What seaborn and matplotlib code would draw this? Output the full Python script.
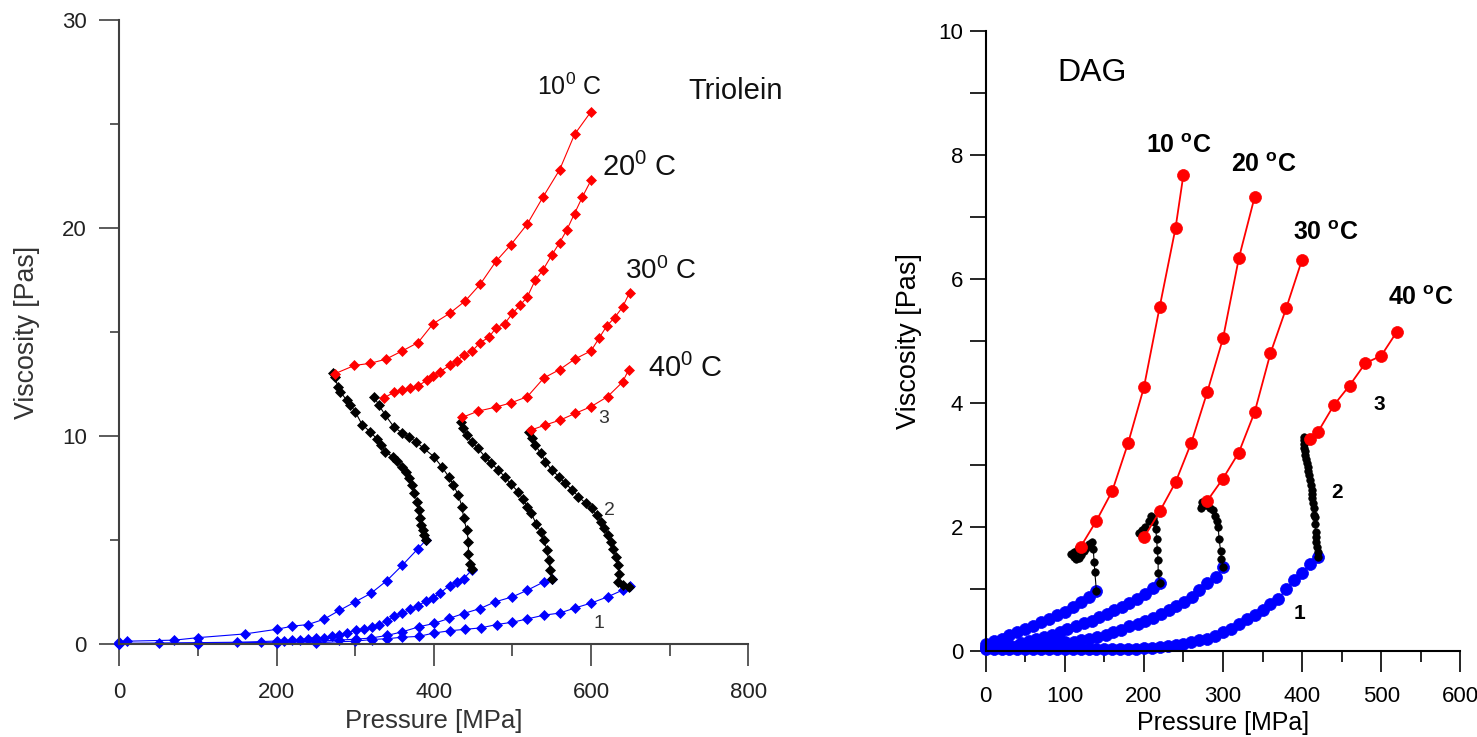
import matplotlib
matplotlib.use("Agg")
import matplotlib.pyplot as plt
import seaborn as sns

# ---------------- Triolein (left panel) ----------------
T10_blue_P = [0, 10, 70, 100, 160, 200, 220, 240, 260, 280, 300, 320, 340, 360, 380, 390]
T10_blue_V = [0.1, 0.15, 0.2, 0.32, 0.5, 0.72, 0.87, 0.95, 1.2, 1.63, 2.04, 2.45, 3.05, 3.8, 4.6, 5.0]
T10_black_P = [390, 387, 386, 384, 382, 381, 379, 375, 372, 368, 365, 360, 353, 348, 338, 333, 328,
               319, 309, 300, 294, 289, 281, 278, 274, 272]
T10_black_V = [5.0, 5.25, 5.49, 5.73, 6.05, 6.45, 6.85, 7.25, 7.65, 7.98, 8.29, 8.53, 8.82, 9.01, 9.26,
               9.58, 9.85, 10.22, 10.54, 11.18, 11.5, 11.74, 12.14, 12.38, 12.86, 13.05]
T10_red_P = [274, 299, 319, 339, 360, 380, 399, 420, 440, 459, 479, 498, 519, 539, 560, 579, 600]
T10_red_V = [13.0, 13.4, 13.5, 13.7, 14.1, 14.5, 15.4, 15.9, 16.5, 17.3, 18.4, 19.2, 20.2, 21.5, 22.8, 24.5, 25.6]

T20_blue_P = [0, 50, 100, 150, 180, 200, 210, 220, 230, 240, 250, 260, 271, 280, 290, 301, 311, 321, 330,
              340, 350, 360, 370, 380, 390, 399, 408, 420, 429, 438, 449]
T20_blue_V = [0.05, 0.06, 0.08, 0.1, 0.13, 0.16, 0.16, 0.2, 0.23, 0.27, 0.32, 0.32, 0.38, 0.45, 0.56, 0.68,
              0.72, 0.83, 0.95, 1.1, 1.35, 1.51, 1.69, 1.85, 2.08, 2.23, 2.46, 2.82, 2.98, 3.16, 3.59]
T20_black_P = [449, 446, 444, 444, 442, 438, 436, 431, 425, 419, 410, 400, 387, 377, 368, 360, 349, 338, 330, 324]
T20_black_V = [3.64, 3.88, 4.36, 4.93, 5.49, 6.05, 6.61, 7.17, 7.66, 8.05, 8.54, 9.02, 9.42, 9.74, 9.98,
               10.14, 10.46, 11.03, 11.5, 11.9]
T20_red_P = [337, 349, 360, 370, 380, 391, 399, 408, 420, 429, 438, 449, 459, 470, 479, 490, 500, 510, 519,
             529, 539, 550, 560, 569, 579, 589, 600]
T20_red_V = [11.85, 12.1, 12.2, 12.3, 12.4, 12.7, 12.9, 13.1, 13.4, 13.6, 13.9, 14.1, 14.5, 14.75, 15.2, 15.4,
             15.9, 16.3, 16.7, 17.5, 18.0, 18.7, 19.3, 19.9, 20.7, 21.5, 22.3]

T30_blue_P = [0, 100, 200, 250, 280, 301, 320, 341, 360, 381, 400, 419, 438, 459, 478, 500, 519, 540, 550]
T30_blue_V = [0.03, 0.05, 0.1, 0.15, 0.2, 0.25, 0.3, 0.43, 0.6, 0.84, 1.0, 1.24, 1.48, 1.72, 2.04, 2.28, 2.6, 3.0, 3.16]
T30_black_P = [550, 548, 546, 544, 540, 536, 530, 524, 519, 513, 507, 498, 490, 482, 473, 465, 456, 448, 442, 437, 435]
T30_black_V = [3.16, 3.57, 4.05, 4.53, 5.0, 5.4, 5.8, 6.29, 6.6, 7.0, 7.34, 7.7, 8.06, 8.38, 8.7, 9.02, 9.42,
               9.74, 10.05, 10.38, 10.7]
T30_red_P = [436, 456, 479, 498, 519, 540, 560, 579, 600, 610, 620, 630, 640, 649]
T30_red_V = [10.9, 11.2, 11.4, 11.6, 11.9, 12.8, 13.2, 13.7, 14.1, 14.7, 15.3, 15.7, 16.2, 16.9]

T40_blue_P = [0, 100, 200, 250, 300, 321, 341, 360, 381, 400, 420, 440, 460, 480, 500, 519, 540, 560, 580,
              600, 621, 640, 650]
T40_blue_V = [0.02, 0.03, 0.05, 0.08, 0.15, 0.23, 0.27, 0.34, 0.38, 0.54, 0.65, 0.72, 0.79, 0.95, 1.06, 1.22,
              1.4, 1.5, 1.75, 1.98, 2.28, 2.6, 2.78]
T40_black_P = [648, 640, 634, 636, 634, 632, 628, 626, 622, 617, 613, 607, 601, 593, 584, 576, 567, 559, 550,
               542, 536, 529, 525, 521]
T40_black_V = [2.76, 2.84, 3.0, 3.4, 3.8, 4.2, 4.6, 4.93, 5.25, 5.57, 5.89, 6.21, 6.54, 6.78, 7.1, 7.42, 7.74,
               8.06, 8.38, 8.78, 9.18, 9.58, 9.9, 10.22]
T40_red_P = [524, 542, 561, 580, 600, 621, 640, 648]
T40_red_V = [10.3, 10.54, 10.78, 11.1, 11.42, 11.9, 12.6, 13.2]

# ---------------- DAG (right panel) ----------------
D10_blue_P = [0, 10, 20, 30, 40, 50, 60, 70, 80, 90, 100, 110, 120, 130, 140]
D10_blue_V = [0.12, 0.16, 0.2, 0.25, 0.31, 0.36, 0.41, 0.47, 0.52, 0.58, 0.63, 0.71, 0.79, 0.87, 0.96]
D10_black_P = [140, 138, 137, 136, 134, 131, 127, 124, 121, 118, 114, 111, 108, 112, 117]
D10_black_V = [0.96, 1.27, 1.44, 1.65, 1.76, 1.72, 1.66, 1.62, 1.55, 1.5, 1.49, 1.52, 1.56, 1.6, 1.64]
D10_red_P = [120, 140, 160, 180, 200, 220, 240, 250]
D10_red_V = [1.68, 2.1, 2.58, 3.35, 4.25, 5.55, 6.82, 7.68]

D20_blue_P = [0, 10, 20, 30, 44, 55, 64, 74, 84, 94, 103, 114, 124, 134, 143, 153, 162, 172, 181, 191, 201,
              211, 220]
D20_blue_V = [0.06, 0.08, 0.09, 0.1, 0.13, 0.16, 0.2, 0.23, 0.26, 0.31, 0.36, 0.4, 0.45, 0.49, 0.55, 0.6,
              0.66, 0.71, 0.77, 0.84, 0.92, 1.02, 1.1]
D20_black_P = [220, 218, 218, 217, 216, 215, 213, 211, 209, 206, 202, 198, 194, 197]
D20_black_V = [1.1, 1.25, 1.46, 1.63, 1.81, 1.97, 2.08, 2.14, 2.17, 2.1, 2.0, 1.95, 1.91, 1.88]
D20_red_P = [200, 220, 240, 260, 280, 300, 320, 340]
D20_red_V = [1.83, 2.25, 2.72, 3.36, 4.17, 5.04, 6.33, 7.32]

D30_blue_P = [0, 10, 20, 30, 40, 50, 60, 70, 80, 90, 100, 112, 121, 131, 141, 152, 161, 171, 181, 192, 201,
              212, 221, 232, 241, 251, 261, 270, 280, 291, 300]
D30_blue_V = [0.04, 0.05, 0.06, 0.07, 0.08, 0.09, 0.1, 0.11, 0.12, 0.13, 0.14, 0.15, 0.17, 0.2, 0.23, 0.26,
              0.31, 0.34, 0.4, 0.44, 0.49, 0.54, 0.6, 0.66, 0.72, 0.79, 0.87, 0.98, 1.09, 1.19, 1.36]
D30_black_P = [300, 298, 297, 295, 294, 292, 290, 287, 283, 278, 274, 272, 274, 278]
D30_black_V = [1.36, 1.49, 1.62, 1.8, 2.0, 2.1, 2.17, 2.27, 2.3, 2.35, 2.33, 2.3, 2.4, 2.42]
D30_red_P = [280, 300, 320, 340, 360, 380, 400]
D30_red_V = [2.42, 2.78, 3.2, 3.85, 4.8, 5.53, 6.31]

D40_blue_P = [0, 10, 20, 30, 40, 50, 60, 70, 80, 90, 100, 110, 120, 130, 140, 150, 160, 170, 180, 190, 200,
              210, 220, 230, 240, 250, 260, 270, 280, 290, 300, 310, 320, 330, 340, 350, 360, 370, 380, 390,
              400, 410, 420]
D40_blue_V = [0.05, 0.04, 0.04, 0.03, 0.03, 0.03, 0.03, 0.03, 0.03, 0.03, 0.03, 0.03, 0.03, 0.03, 0.03, 0.03,
              0.03, 0.03, 0.04, 0.04, 0.05, 0.05, 0.06, 0.08, 0.09, 0.12, 0.15, 0.17, 0.2, 0.24, 0.31, 0.36,
              0.43, 0.51, 0.58, 0.66, 0.75, 0.84, 1.0, 1.14, 1.26, 1.41, 1.52]
D40_black_P = [420, 419.5, 419, 418, 417, 417, 416.5, 416, 415.5, 415, 414, 413, 412.5, 412, 411, 410, 409,
               408, 407, 406, 405, 404, 403.5, 403, 402, 402, 402]
D40_black_V = [1.52, 1.6, 1.67, 1.75, 1.84, 1.92, 2.05, 2.16, 2.2, 2.3, 2.38, 2.46, 2.53, 2.6, 2.68, 2.76,
               2.83, 2.9, 2.96, 3.03, 3.1, 3.16, 3.22, 3.28, 3.33, 3.4, 3.45]
D40_red_P = [410, 420, 440, 460, 480, 500, 520]
D40_red_V = [3.41, 3.53, 3.96, 4.28, 4.64, 4.76, 5.15]

sns.set_theme(style="ticks")
plt.rcParams['font.family'] = ['Liberation Sans', 'DejaVu Sans']
plt.rcParams['mathtext.fontset'] = 'custom'
plt.rcParams['mathtext.rm'] = 'Liberation Sans'
plt.rcParams['mathtext.default'] = 'regular'

BLUE, RED, BLACK = '#0000FF', '#FF0000', '#000000'

fig = plt.figure(figsize=(14.77, 7.37), dpi=100)
axL = fig.add_axes([119.3 / 1477, (737 - 644.3) / 737, 629 / 1477, 624.3 / 737])
axR = fig.add_axes([985.7 / 1477, (737 - 651) / 737, 474.6 / 1477, 620.3 / 737])


def draw(ax, P, V, color, marker, ms, lw):
    sns.lineplot(x=P, y=V, ax=ax, sort=False, estimator=None, color=color, marker=marker,
                 markersize=ms, markeredgecolor=color, markeredgewidth=0.5, linewidth=lw,
                 legend=False, clip_on=False)


# left panel
for bp, bv, kp, kv, rp, rv in [
    (T10_blue_P, T10_blue_V, T10_black_P, T10_black_V, T10_red_P, T10_red_V),
    (T20_blue_P, T20_blue_V, T20_black_P, T20_black_V, T20_red_P, T20_red_V),
    (T30_blue_P, T30_blue_V, T30_black_P, T30_black_V, T30_red_P, T30_red_V),
    (T40_blue_P, T40_blue_V, T40_black_P, T40_black_V, T40_red_P, T40_red_V),
]:
    draw(axL, bp, bv, BLUE, 'D', 5.0, 0.8)
    draw(axL, kp, kv, BLACK, 'D', 5.0, 0.8)
    draw(axL, rp, rv, RED, 'D', 5.0, 0.8)

# right panel
for bp, bv, kp, kv, rp, rv in [
    (D10_blue_P, D10_blue_V, D10_black_P, D10_black_V, D10_red_P, D10_red_V),
    (D20_blue_P, D20_blue_V, D20_black_P, D20_black_V, D20_red_P, D20_red_V),
    (D30_blue_P, D30_blue_V, D30_black_P, D30_black_V, D30_red_P, D30_red_V),
    (D40_blue_P, D40_blue_V, D40_black_P, D40_black_V, D40_red_P, D40_red_V),
]:
    draw(axR, bp, bv, BLUE, 'o', 8.6, 1.0)
    draw(axR, kp, kv, BLACK, 'o', 5.4, 0.8)
    draw(axR, rp, rv, RED, 'o', 8.6, 1.3)

# ---- left axis styling
axL.set_xlim(0, 800)
axL.set_ylim(0, 30)
axL.set_xticks([0, 200, 400, 600, 800])
axL.set_xticks([100, 300, 500, 700], minor=True)
axL.set_yticks([0, 10, 20, 30])
axL.set_yticks([5, 15, 25], minor=True)
for s in ['top', 'right']:
    axL.spines[s].set_visible(False)
for s in ['left', 'bottom']:
    axL.spines[s].set_linewidth(1.5)
    axL.spines[s].set_color('#404040')
axL.tick_params(axis='x', which='major', length=15.8, width=1.2, pad=11, labelsize=16,
                color='#404040', labelcolor='#222222', direction='out')
axL.tick_params(axis='x', which='minor', length=8.6, width=1.2, color='#404040', direction='out')
axL.tick_params(axis='y', which='major', length=14.4, width=1.2, pad=9, labelsize=16,
                color='#404040', labelcolor='#222222', direction='out')
axL.tick_params(axis='y', which='minor', length=6.3, width=1.2, color='#404040', direction='out')
axL.set_xlabel('Pressure [MPa]', fontsize=18.5, labelpad=5, color='#333333')
axL.set_ylabel('Viscosity [Pas]', fontsize=19.3, labelpad=16, color='#333333')

for txt, x, y, fs in [("10$^{0}$ C", 531, 26.4, 18), ("20$^{0}$ C", 614, 22.5, 21),
                      ("30$^{0}$ C", 643, 17.54, 20), ("40$^{0}$ C", 673, 12.86, 21),
                      ("Triolein", 724, 26.19, 21)]:
    axL.text(x, y, txt, fontsize=fs, ha='left', va='baseline', color='#111111', clip_on=False)
for txt, x, y in [("3", 616, 10.86), ("2", 624, 6.45), ("1", 610, 1.0)]:
    axL.text(x, y, txt, fontsize=14, ha='center', va='center', color='#333333')

# ---- right axis styling
axR.set_xlim(0, 600)
axR.set_ylim(0, 10)
axR.set_xticks([0, 100, 200, 300, 400, 500, 600])
axR.set_xticks([50, 150, 250, 350, 450, 550], minor=True)
axR.set_yticks([0, 2, 4, 6, 8, 10])
axR.set_yticks([1, 3, 5, 7, 9], minor=True)
for s in ['top', 'right']:
    axR.spines[s].set_visible(False)
for s in ['left', 'bottom']:
    axR.spines[s].set_linewidth(1.5)
    axR.spines[s].set_color('black')
axR.tick_params(axis='x', which='major', length=14.9, width=1.2, pad=10, labelsize=16,
                color='black', labelcolor='black', direction='out')
axR.tick_params(axis='x', which='minor', length=7.7, width=1.2, color='black', direction='out')
axR.tick_params(axis='y', which='major', length=11.3, width=1.2, pad=5, labelsize=16,
                color='black', labelcolor='black', direction='out')
axR.tick_params(axis='y', which='minor', length=11.3, width=1.2, color='black', direction='out')
axR.set_xlabel('Pressure [MPa]', fontsize=18, labelpad=3, color='black')
axR.set_ylabel('Viscosity [Pas]', fontsize=19.5, labelpad=12, color='black')

for txt, x, y in [("10 $^{o}$C", 203, 8.03), ("20 $^{o}$C", 310, 7.73),
                  ("30 $^{o}$C", 389, 6.63), ("40 $^{o}$C", 508, 5.57)]:
    axR.text(x, y, txt, fontsize=18, fontweight='bold', ha='left', va='baseline',
             color='black', clip_on=False)
axR.text(91, 9.19, "DAG", fontsize=23, ha='left', va='baseline', color='black')
for txt, x, y in [("3", 497, 3.98), ("2", 444, 2.55), ("1", 396.6, 0.6)]:
    axR.text(x, y, txt, fontsize=15, fontweight='bold', ha='center', va='center', color='black')

fig.savefig('out.png', dpi=100)
